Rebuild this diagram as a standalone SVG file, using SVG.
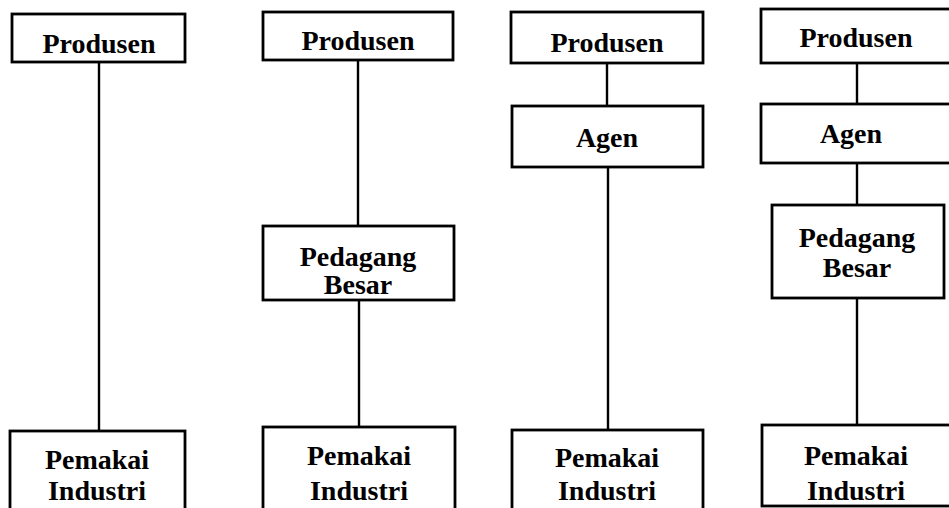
<svg xmlns="http://www.w3.org/2000/svg" width="949" height="508" viewBox="0 0 949 508">
<style>
.box{fill:#fff;stroke:#000;stroke-width:2.8}
.t{font-family:"Liberation Serif","Times New Roman",serif;font-weight:bold;font-size:28px;text-anchor:middle;fill:#000}
.c{stroke:#000;stroke-width:2.4;fill:none}
</style>
<rect width="949" height="508" fill="#fff"/>
<g id="connectors">
<line class="c" x1="99" y1="62" x2="99" y2="431"/>
<line class="c" x1="358" y1="60" x2="358" y2="226"/>
<line class="c" x1="359" y1="300" x2="359" y2="427"/>
<line class="c" x1="607" y1="63" x2="607" y2="106"/>
<line class="c" x1="608" y1="167" x2="608" y2="430"/>
<line class="c" x1="857" y1="63" x2="857" y2="104"/>
<line class="c" x1="857" y1="163" x2="857" y2="205"/>
<line class="c" x1="857" y1="298" x2="857" y2="425"/>
</g>
<g id="produsen1"><rect class="box" x="12" y="14" width="173" height="48"/><text class="t" x="99" y="53">Produsen</text></g>
<g id="pemakai1"><rect class="box" x="10" y="431" width="175" height="90"/><text class="t" x="97" y="469">Pemakai</text><text class="t" x="97" y="500">Industri</text></g>
<g id="produsen2"><rect class="box" x="263" y="12" width="190" height="48"/><text class="t" x="358" y="50">Produsen</text></g>
<g id="pedagang2"><rect class="box" x="263" y="226" width="191" height="74"/><text class="t" x="358" y="266">Pedagang</text><text class="t" x="358" y="294">Besar</text></g>
<g id="pemakai2"><rect class="box" x="263" y="427" width="192" height="90"/><text class="t" x="359" y="465">Pemakai</text><text class="t" x="359" y="500">Industri</text></g>
<g id="produsen3"><rect class="box" x="511" y="12" width="192" height="51"/><text class="t" x="607" y="52">Produsen</text></g>
<g id="agen3"><rect class="box" x="512" y="106" width="191" height="61"/><text class="t" x="607" y="147">Agen</text></g>
<g id="pemakai3"><rect class="box" x="512" y="430" width="191" height="90"/><text class="t" x="607" y="467">Pemakai</text><text class="t" x="607" y="500">Industri</text></g>
<g id="produsen4"><rect class="box" x="761" y="9" width="200" height="54"/><text class="t" x="856" y="47">Produsen</text></g>
<g id="agen4"><rect class="box" x="761" y="104" width="200" height="59"/><text class="t" x="851" y="143">Agen</text></g>
<g id="pedagang4"><rect class="box" x="772" y="205" width="172" height="93"/><text class="t" x="857" y="247">Pedagang</text><text class="t" x="857" y="277">Besar</text></g>
<g id="pemakai4"><rect class="box" x="762" y="425" width="200" height="81"/><text class="t" x="856" y="465">Pemakai</text><text class="t" x="856" y="500">Industri</text></g>
</svg>
